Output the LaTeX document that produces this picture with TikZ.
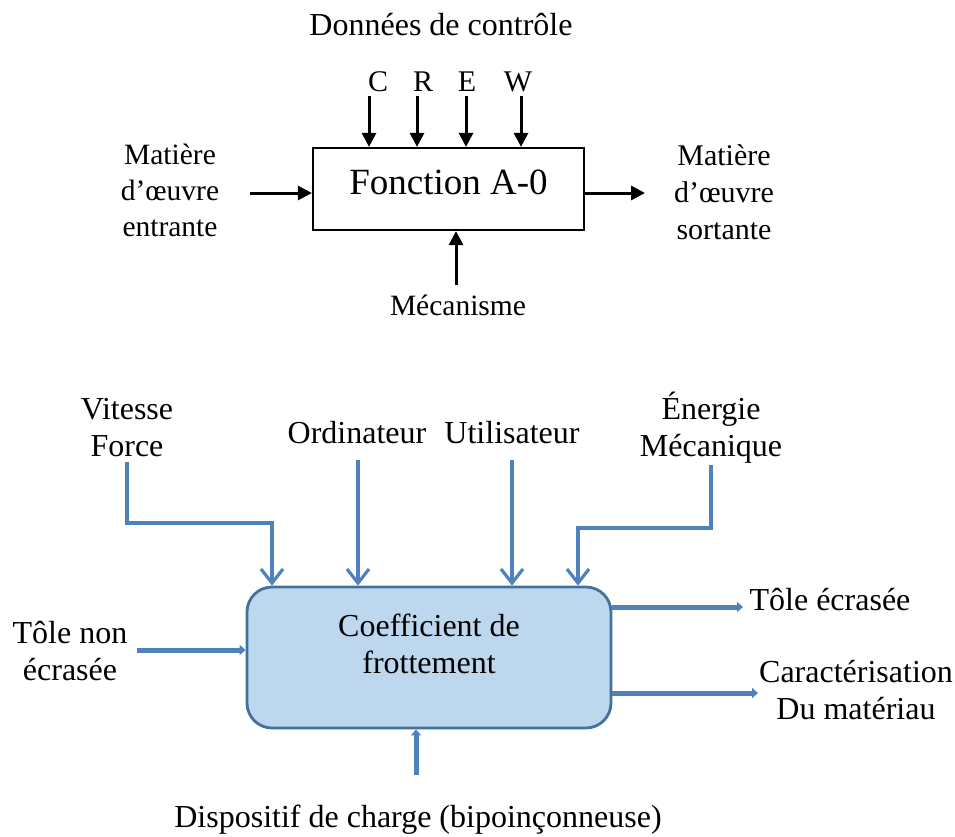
\documentclass[tikz,border=0pt]{standalone}
\usepackage{fontspec}
\setmainfont{Liberation Serif}
\usetikzlibrary{arrows.meta}
\definecolor{ctlblue}{HTML}{4F81BD}
\definecolor{boxborder}{HTML}{41719C}
\definecolor{boxfill}{HTML}{BDD7EE}
\tikzset{
  txt/.style={inner sep=0pt, align=center, font=\fontsize{32}{37}\selectfont},
  txtsmall/.style={inner sep=0pt, align=center, font=\fontsize{29.5}{36}\selectfont},
  blk/.style={line width=3pt, -{Triangle[length=14pt,width=14pt]}},
  ctl/.style={draw=ctlblue, line width=3.2pt, -{Straight Barb[length=14pt,width=22pt]}},
  io/.style={draw=ctlblue, line width=5pt, -{Triangle[length=6pt,width=10pt]}},
  a0box/.style={draw, line width=2.2pt, minimum width=271pt, minimum height=82pt, inner sep=0pt,
    text depth=14pt, font=\fontsize{37}{40}\selectfont},
  coefbox/.style={draw=boxborder, fill=boxfill, line width=2.8pt, rounded corners=25pt,
    minimum width=364pt, minimum height=141pt, inner sep=0pt}
}
\begin{document}
\begin{tikzpicture}[x=1pt,y=-1pt]
\useasboundingbox (0,0) rectangle (955,836);
% ---------- top diagram ----------
\node[a0box] (A0) at (448.5,189) {Fonction A-0};
\node[txt] (ctrl) at (441,25) {Données de contrôle};
\node[txtsmall, font=\fontsize{30}{36}\selectfont] (lC) at (378,82) {C};
\node[txtsmall, font=\fontsize{30}{36}\selectfont] (lR) at (423,82) {R};
\node[txtsmall, font=\fontsize{30}{36}\selectfont] (lE) at (467,82) {E};
\node[txtsmall, font=\fontsize{30}{36}\selectfont] (lW) at (518,82) {W};
\node[txtsmall] (inTxt) at (170,190) {Matière\\d’œuvre\\entrante};
\node[txtsmall, font=\fontsize{30}{37}\selectfont] (outTxt) at (724,192) {Matière\\d’œuvre\\sortante};
\node[txtsmall] (mecTxt) at (458,305) {Mécanisme};
\coordinate (cC) at (369,96);
\coordinate (cR) at (417,96);
\coordinate (cE) at (466,96);
\coordinate (cW) at (521,96);
\draw[blk] (cC) -- (cC |- A0.north);
\draw[blk] (cR) -- (cR |- A0.north);
\draw[blk] (cE) -- (cE |- A0.north);
\draw[blk] (cW) -- (cW |- A0.north);
\coordinate (inA) at (250,193);
\coordinate (outA) at (645,193);
\coordinate (mecA) at (456,285);
\draw[blk] (inA) -- (inA -| A0.west);
\draw[blk] (outA -| A0.east) -- (outA);
\draw[blk] (mecA) -- (mecA |- A0.south);
% ---------- bottom diagram ----------
\node[coefbox] (B) at (429,657.5) {};
\node[txt] (coefTxt) at (429,644) {Coefficient de\\frottement};
\node[txt] (vit) at (127,428) {Vitesse\\Force};
\node[txt] (ordi) at (357,433) {Ordinateur};
\node[txt] (util) at (512,433) {Utilisateur};
\node[txt] (ener) at (711,428) {Énergie\\Mécanique};
\node[txt] (tnon) at (70,651) {Tôle non\\écrasée};
\node[txt] (tecr) at (830,600) {Tôle écrasée};
\node[txt] (cara) at (856,690) {Caractérisation\\Du matériau};
\node[txt] (disp) at (418,820) {Dispositif de charge (bipoinçonneuse)};
\coordinate (v1) at (127,462);
\coordinate (v2) at (272,523);
\coordinate (o1) at (358,460);
\coordinate (u1) at (512,460);
\coordinate (e1) at (711,465);
\coordinate (e2) at (578,528);
\draw[ctl] (v1) |- (v2) -- (v2 |- B.north);
\draw[ctl] (o1) -- (o1 |- B.north);
\draw[ctl] (u1) -- (u1 |- B.north);
\draw[ctl] (e1) |- (e2) -- (e2 |- B.north);
\coordinate (t1) at (137,650);
\coordinate (r1) at (743,607);
\coordinate (r2) at (758,693);
\coordinate (d1) at (416,775);
\draw[io] (t1) -- (t1 -| B.west);
\draw[io] (r1 -| B.east) -- (r1);
\draw[io] (r2 -| B.east) -- (r2);
\draw[io] (d1) -- (d1 |- B.south);
\end{tikzpicture}
\end{document}
